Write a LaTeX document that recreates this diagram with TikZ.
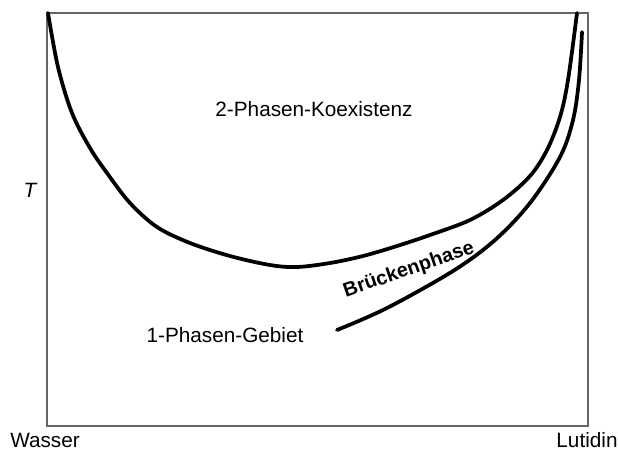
\documentclass[tikz,border=0pt]{standalone}
\usepackage{fontspec}
\setmainfont{Liberation Sans}
\usepackage{tikz}

\begin{document}
\begin{tikzpicture}[x=0.02cm,y=-0.02cm,
    lbl/.style={inner sep=0pt,anchor=base,font=\fontsize{11.8}{14}\selectfont},
    phase/.style={line width=0.075cm,line cap=round,line join=round}]
    \useasboundingbox (0,0) rectangle (618,450);
    % frame
    \draw[line width=0.04cm,color=black!60] (47,13) rectangle (588,426);
    % coexistence curve
    \draw[phase] plot[smooth,tension=0.55] coordinates {
      (48,13) (58,67) (72,113) (90,148) (107,173) (130,203) (157,227)
      (190,243) (230,256) (270,265) (297,267) (330,263) (363,256)
      (397,246) (430,235) (470,220) (503,200) (530,176) (547,150)
      (560,117) (568,80) (577,13)};
    % bridge phase
    \draw[phase] plot[smooth,tension=0.55] coordinates {
      (337,330) (387,308) (453,271) (495,240) (530,203) (560,157)
      (573,120) (579,80) (582,32)};
    \node[lbl] (koex) at (314,116) {2-Phasen-Koexistenz};
    \node[lbl] (gebiet) at (225,342) {1-Phasen-Gebiet};
    \node[lbl,anchor=center,rotate=19,font=\fontsize{11.3}{14}\selectfont\bfseries]
      (bruecke) at (409,270) {Brückenphase};
    \node[lbl] (temp) at (30,197) {\itshape T};
    \node[lbl] (wasser) at (45,447) {Wasser};
    \node[lbl] (lutidin) at (587,447) {Lutidin};
  \end{tikzpicture}
\end{document}
